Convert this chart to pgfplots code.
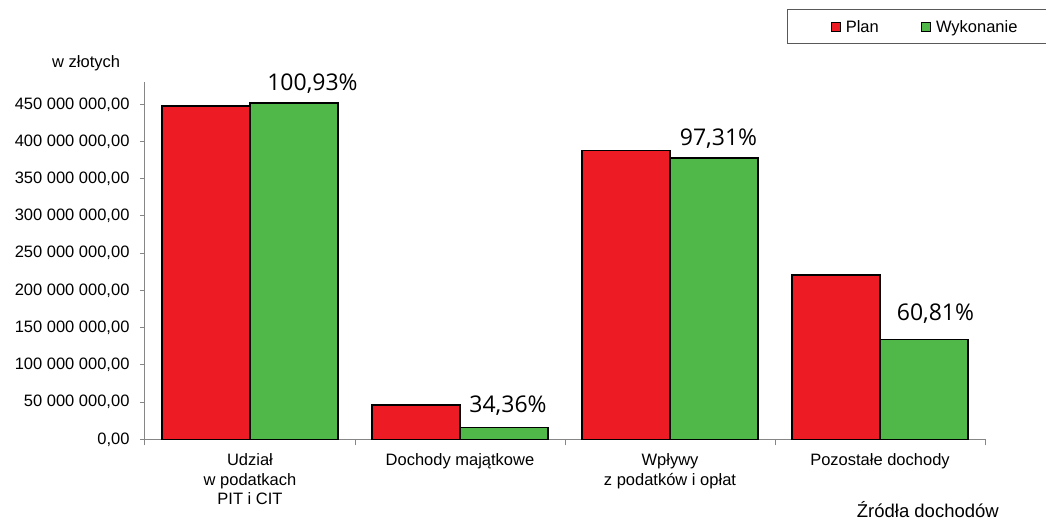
\documentclass[border=0pt]{standalone}
\usepackage{pgfplots}
\pgfplotsset{compat=1.18}
\usepackage{fontspec}
\setmainfont{Liberation Sans}
\newfontfamily\pctfont{Open Sans}
\definecolor{planred}{HTML}{ED1C24}
\definecolor{wykgreen}{HTML}{50B848}
\definecolor{axgray}{HTML}{868686}
\begin{document}
\begin{tikzpicture}[font=\fontsize{16.5}{19}\selectfont]
\path[use as bounding box] (-145pt,-82.7pt) rectangle (901pt,439.3pt);
\begin{axis}[
  at={(0pt,0pt)}, anchor=south west,
  scale only axis, width=840pt, height=357.3pt,
  clip=false,
  xmin=-0.5, xmax=3.5, ymin=0, ymax=480000000,
  ybar=0pt, bar width=88pt,
  axis x line*=bottom, axis y line*=left,
  axis line style={axgray, line width=1pt},
  xtick={0,1,2,3},
  xticklabels={{Udział\\w podatkach\\PIT i CIT},{Dochody majątkowe},{Wpływy\\z podatków i opłat},{Pozostałe dochody}},
  xticklabel style={align=center, yshift=-6pt, font=\fontsize{16.5}{19.5}\selectfont},
  major x tick style={draw=none},
  minor xtick={-0.5,0.5,1.5,2.5,3.5},
  tick align=outside, major tick length=5pt, minor tick length=6pt,
  tick style={axgray, line width=1pt},
  ytick={0,50000000,100000000,150000000,200000000,250000000,300000000,350000000,400000000,450000000},
  scaled y ticks=false,
  yticklabel style={xshift=-7pt, /pgf/number format/.cd, fixed, fixed zerofill, precision=2, use comma, 1000 sep={\ }, assume math mode=true},
  legend style={at={(0.9286,1.1539)}, anchor=center, draw=none, fill=none,
    legend columns=2, inner xsep=2pt, inner ysep=2pt,
    font=\fontsize{16.5}{19}\selectfont,
    /tikz/every odd column/.append style={column sep=3pt},
    /tikz/every even column/.append style={column sep=40pt}},
]
\addplot[fill=planred, draw=black, line width=1.5pt,
  legend image code/.code={\draw[fill=planred,draw=black,line width=1.2pt] (0pt,-4.5pt) rectangle (9pt,4.5pt);}]
  coordinates {(0,447800000) (1,46000000) (2,388300000) (3,220500000)};
\addplot[fill=wykgreen, draw=black, line width=1.5pt,
  legend image code/.code={\draw[fill=wykgreen,draw=black,line width=1.2pt] (0pt,-4.5pt) rectangle (9pt,4.5pt);}]
  coordinates {(0,451960000) (1,15800000) (2,377900000) (3,134100000)};
\legend{Plan,Wykonanie}
\node[anchor=base, font=\pctfont\fontsize{23}{27}\selectfont] at (axis cs:0.2976,468900000) {100,93\%};
\node[anchor=base, font=\pctfont\fontsize{23}{27}\selectfont] at (axis cs:1.2286,36600000) {34,36\%};
\node[anchor=base, font=\pctfont\fontsize{23}{27}\selectfont] at (axis cs:2.231,395000000) {97,31\%};
\node[anchor=base, font=\pctfont\fontsize{23}{27}\selectfont] at (axis cs:3.264,160100000) {60,81\%};
\end{axis}
\draw[black!65, line width=1pt] (960pt,429.3pt) -- (642pt,429.3pt) -- (642pt,395.3pt) -- (960pt,395.3pt);
\node[anchor=base west, inner sep=0pt] at (-93pt,371.3pt) {w złotych};
\node[anchor=base east, inner sep=0pt, font=\fontsize{18.5}{22}\selectfont] at (854pt,-77.7pt) {Źródła dochodów};
\end{tikzpicture}
\end{document}
